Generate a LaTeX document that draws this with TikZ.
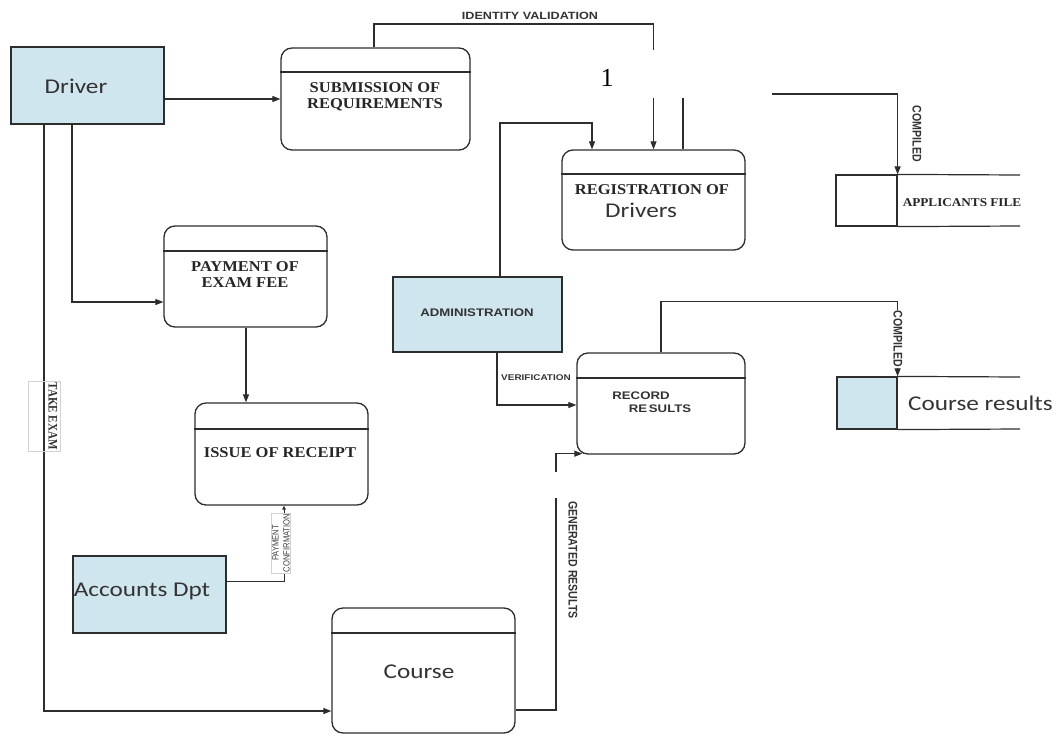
\documentclass[tikz,border=0pt]{standalone}
\usepackage{fontspec}
\setmainfont{Liberation Serif}
\newfontfamily\serifw[FakeStretch=1.1]{Liberation Serif}
\newfontfamily\serifn[FakeStretch=0.85]{Liberation Serif}
\newfontfamily\calw[FakeStretch=1.2]{Carlito}
\newfontfamily\arialw[FakeStretch=1.2]{Liberation Sans}
\newfontfamily\arialn[FakeStretch=0.85]{Liberation Sans}
\usetikzlibrary{arrows.meta,calc}
\definecolor{entblue}{RGB}{208,230,238}
\definecolor{ln}{RGB}{45,45,45}
\begin{document}
\begin{tikzpicture}[x=1pt,y=-1pt,
  proc/.style={draw=ln, line width=1.3pt, rounded corners=11pt, inner sep=0pt, fill=white},
  ent/.style={draw=ln, line width=1.3pt, fill=entblue, inner sep=0pt},
  flow/.style={draw=ln, line width=1.1pt, -{Triangle[length=8pt,width=6pt]}},
  smallflow/.style={draw=ln, line width=1pt, -{Triangle[length=4pt,width=3.5pt]}},
  plain/.style={draw=ln, line width=1.1pt},
  div/.style={draw=ln, line width=1.2pt},
  ptext/.style={inner sep=0pt, font=\serifw\bfseries\fontsize{15}{16}\selectfont, align=center, text=black!85},
  stext/.style={inner sep=0pt, font=\calw\fontsize{21}{24}\selectfont, text=black!80},
  vlabel/.style={inner sep=1pt, rotate=-90, font=\arialn\bfseries\fontsize{12.5}{14}\selectfont, text=black!80}]
\useasboundingbox (0,0) rectangle (1063,736);
\fill[white] (0,0) rectangle (1063,736);

% ---------- entities ----------
\node[ent, minimum width=153pt, minimum height=77pt] (drv) at (87.5,85.5) {};
\node[stext, anchor=center] (drvt) at (76,86) {Driver};
\node[ent, minimum width=153pt, minimum height=77pt] (acc) at (149.5,594.5) {};
\node[stext] (acct) at (142,591) {Accounts Dpt};
\node[ent, minimum width=169pt, minimum height=75pt] (adm) at (477.5,314.5) {};
\node[inner sep=0pt, font=\arialw\bfseries\fontsize{11}{12}\selectfont, text=black!80] (admt) at (477,313) {ADMINISTRATION};

% ---------- processes ----------
\node[proc, minimum width=189pt, minimum height=102pt] (sub) at (375.5,99) {};
\draw[div] (sub.west |- 0,72) -- (sub.east |- 0,72);
\node[ptext] (subt) at (375,97) {SUBMISSION OF\\REQUIREMENTS};

\node[proc, minimum width=183pt, minimum height=100pt] (reg) at (653.5,200) {};
\draw[div] (reg.west |- 0,174) -- (reg.east |- 0,174);
\node[ptext] (regt) at (652,190) {REGISTRATION OF};
\node[stext] (regt2) at (641,210) {Drivers};

\node[proc, minimum width=163pt, minimum height=101pt] (pay) at (245.5,276.5) {};
\draw[div] (pay.west |- 0,251) -- (pay.east |- 0,251);
\node[ptext] (payt) at (245,275) {PAYMENT OF\\EXAM FEE};

\node[proc, minimum width=173pt, minimum height=102pt] (iss) at (281.5,454) {};
\draw[div] (iss.west |- 0,429) -- (iss.east |- 0,429);
\node[ptext] (isst) at (280,453) {ISSUE OF RECEIPT};

\node[proc, minimum width=168pt, minimum height=101pt] (rec) at (661,403.5) {};
\draw[div] (rec.west |- 0,378) -- (rec.east |- 0,378);
\node[inner sep=0pt, font=\arialw\bfseries\fontsize{11}{12}\selectfont, text=black!80] (rect1) at (641,396) {RECORD};
\node[inner sep=0pt, font=\arialw\bfseries\fontsize{11}{12}\selectfont, text=black!80] (rect2) at (660,409) {RE\,SULTS};

\node[proc, minimum width=183pt, minimum height=125pt] (crs) at (423.5,670.5) {};
\draw[div] (crs.west |- 0,633) -- (crs.east |- 0,633);
\node[stext] (crst) at (419,672) {Course};

% ---------- data stores ----------
\node[draw=ln, line width=1.2pt, fill=white, minimum width=61pt, minimum height=51pt, inner sep=0pt] (appl) at (866.5,200.5) {};
\draw[div] (appl.north east) -- (1020,175);
\draw[div] (appl.south east) -- (1020,226);
\node[inner sep=0pt, font=\serifw\bfseries\fontsize{12}{13}\selectfont, text=black!85] (applt) at (962,203) {APPLICANTS FILE};

\node[ent, line width=1.2pt, minimum width=60pt, minimum height=52pt] (cres) at (867,403) {};
\draw[div] (cres.north east) -- (1020,377);
\draw[div] (cres.south east) -- (1020,429);
\node[stext, anchor=west] (crest) at (908,403) {Course results};

% ---------- connectors ----------
\draw[flow] (drv.east |- sub.west) -- (sub.west);
\draw[flow] (sub.north -| 374,0) |- (530,24) -| (reg.north);
\node[inner sep=0pt, font=\arialw\bfseries\fontsize{10.5}{12}\selectfont, text=black!80] (idl) at (530,16) {IDENTITY VALIDATION};
\draw[flow] (reg.north -| 683,0) |- (820,94) -| (appl.north east);
\node[vlabel] (cmp1) at (917,134) {COMPILED};
\draw[flow] (adm.north -| 500,0) |- (560,123) -| (reg.north -| 592,0);

% patch that hides the middle of the top flows, with the "1"
\node[fill=white, minimum width=184pt, minimum height=48pt, inner sep=0pt] (patch) at (680,74) {};
\node[inner sep=0pt, font=\fontsize{26}{28}\selectfont] (one) at (607,78) {1};

\draw[flow] (drv.south -| 72,0) |- (pay.west |- 0,302);
\draw[flow] (drv.south -| 44,0) |- (crs.west |- 0,711);
\draw[gray!35, line width=0.6pt] (28,381) rectangle (60,451);
\node[inner sep=0pt, rotate=-90, font=\serifn\bfseries\fontsize{13}{14}\selectfont, text=black!80] (tk) at (53,416) {TAKE EXAM};

\draw[flow] (pay.south -| 246,0) -- (iss.north -| 246,0);

\draw[smallflow] (acc.east |- 0,581) -| (iss.south -| 284,0);
\node[fill=white, draw=gray!35, line width=0.5pt, inner sep=1pt, rotate=90, align=center, font=\arialn\fontsize{9}{11}\selectfont, text=black!75] (pc) at (281,543) {PAYMENT\\CONFIRMATION};

\draw[flow] (adm.south -| 497,0) |- (rec.west |- 0,405);
\node[inner sep=0pt, font=\arialw\bfseries\fontsize{8.3}{9}\selectfont, text=black!80] (ver) at (536,378) {VERIFICATION};

\coordinate (g1) at (556,498);
\coordinate (g2) at (556,472);
\draw[plain] (crs.east |- 0,710) -| (g1);
\draw[flow] (g2) |- ($(rec.south west)+(6,-1)$);
\node[vlabel, font=\arialn\bfseries\fontsize{12.5}{14}\selectfont] (gen) at (573,560) {GENERATED RESULTS};

\draw[flow] (rec.north) |- ($(cres.north east)+(0,-75)$) -- (cres.north east);
\node[vlabel, fill=white] (cmp2) at (898,339) {COMPILED};
\end{tikzpicture}
\end{document}
